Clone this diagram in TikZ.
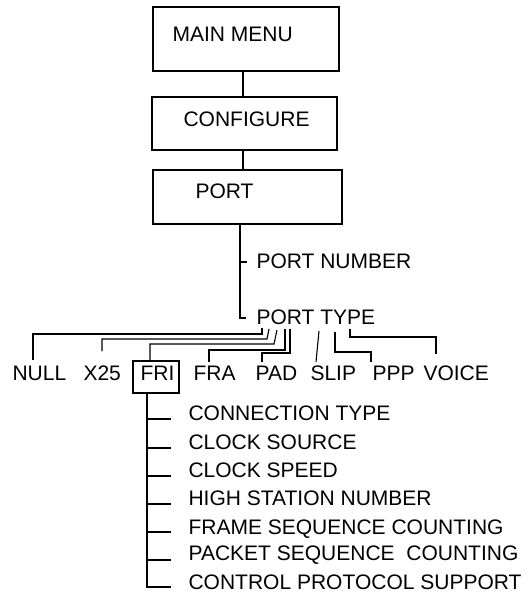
\documentclass[tikz,border=0pt]{standalone}
\usepackage{fontspec}
\setmainfont{Liberation Sans}
\begin{document}
\begin{tikzpicture}[x=1pt,y=-1pt, line width=1.1pt,
  box/.style={draw, rectangle, inner sep=0pt},
  lbl/.style={anchor=base west, inner sep=0pt, font=\fontsize{21}{25}\selectfont}]
\useasboundingbox (0,0) rectangle (530,593);
% boxes
\node[box, minimum width=186pt, minimum height=64pt] (mm) at (246,39) {};
\node[lbl] (mmt) at (172,42) {MAIN MENU};
\node[box, minimum width=185pt, minimum height=53pt] (cf) at (244.5,123.5) {};
\node[lbl] (cft) at (183,127) {CONFIGURE};
\node[box, minimum width=189pt, minimum height=54pt] (pb) at (247.5,197) {};
\node[lbl] (pbt) at (195,199) {PORT};
\draw (243,0 |- mm.south) -- (243,0 |- cf.north);
\draw (243,0 |- cf.south) -- (243,0 |- pb.north);
% port items
\node[lbl] (pn) at (256,268) {PORT NUMBER};
\node[lbl] (pt) at (256,324) {PORT TYPE};
\coordinate (pv) at (240,0 |- pb.south);
\draw (pv) -- (240,318) -- (246,318);
\draw (240,262) -- (247,262);
% port types
\node[lbl] (null) at (12,380) {NULL};
\node[lbl] (x25) at (83,380) {X25};
\node[box, minimum width=46pt, minimum height=32pt] (fribox) at (156,377) {};
\node[lbl] (fri) at (140,380) {FRI};
\node[lbl] (fra) at (193,380) {FRA};
\node[lbl] (pad) at (255,380) {PAD};
\node[lbl] (slip) at (310,380) {SLIP};
\node[lbl] (ppp) at (372,380) {PPP};
\node[lbl] (voice) at (423,380) {VOICE};
\draw (262,328) -- (262,334) -- (33,334) -- (33,360);
\draw (269,329) -- (267,339) -- (102,339) -- (102,351);
\draw (277,330) -- (274,344) -- (150,344) -- (150,0 |- fribox.north);
\draw (285,329) -- (285,350) -- (209,350) -- (209,362);
\draw (290,329) -- (290,353) -- (262,353) -- (262,362);
\draw (319,331) -- (316,362);
\draw (335,332) -- (335,352) -- (371,352) -- (371,362);
\draw (350,329) -- (350,337) -- (436,337) -- (436,354);
% FRI items
\node[lbl] (i1) at (188,420.5) {CONNECTION TYPE};
\node[lbl] (i2) at (188,449.5) {CLOCK SOURCE};
\node[lbl] (i3) at (188,477.5) {CLOCK SPEED};
\node[lbl] (i4) at (188,505.5) {HIGH STATION NUMBER};
\node[lbl] (i5) at (188,534.5) {FRAME SEQUENCE COUNTING};
\node[lbl] (i6) at (188,560.5) {PACKET SEQUENCE~~COUNTING};
\node[lbl] (i7) at (188,589.5) {CONTROL PROTOCOL SUPPORT};
\coordinate (fv) at (147,0 |- fribox.south);
\draw (fv) -- (147,587) -- (171,587);
\foreach \yy in {419,448,476,504,532,560} \draw (147,\yy) -- (171,\yy);
\end{tikzpicture}
\end{document}
